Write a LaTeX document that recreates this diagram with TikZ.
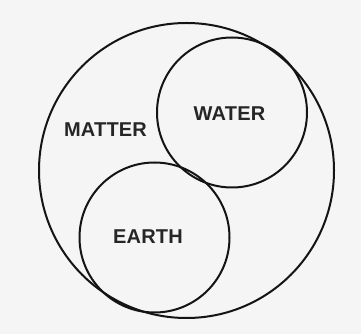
\documentclass[tikz,border=0pt]{standalone}
\usepackage{fontspec}
\newfontfamily\lab[LetterSpace=1]{Liberation Sans Bold}
\begin{document}
\begin{tikzpicture}[x=1pt,y=1pt,
  ring/.style={draw=black!92,line width=2pt},
  word/.style={font=\lab\fontsize{20}{20}\selectfont,text=black!85,inner sep=0pt}]
\fill[black!4] (0,0) rectangle (361,334);
\useasboundingbox (0,0) rectangle (361,334);
\draw[ring] (186.5,163.5) ellipse [x radius=147.5, y radius=147.5];
\node[ring,circle,minimum size=150pt,inner sep=0pt] (water) at (232,221.5) {};
\node[ring,circle,minimum size=150pt,inner sep=0pt] (earth) at (154.5,96.5) {};
\node[word] (matter) at (105.5,204.5) {MATTER};
\node[word] at (229.5,220.5) {WATER};
\node[word] at (148,97) {EARTH};
\end{tikzpicture}
\end{document}
